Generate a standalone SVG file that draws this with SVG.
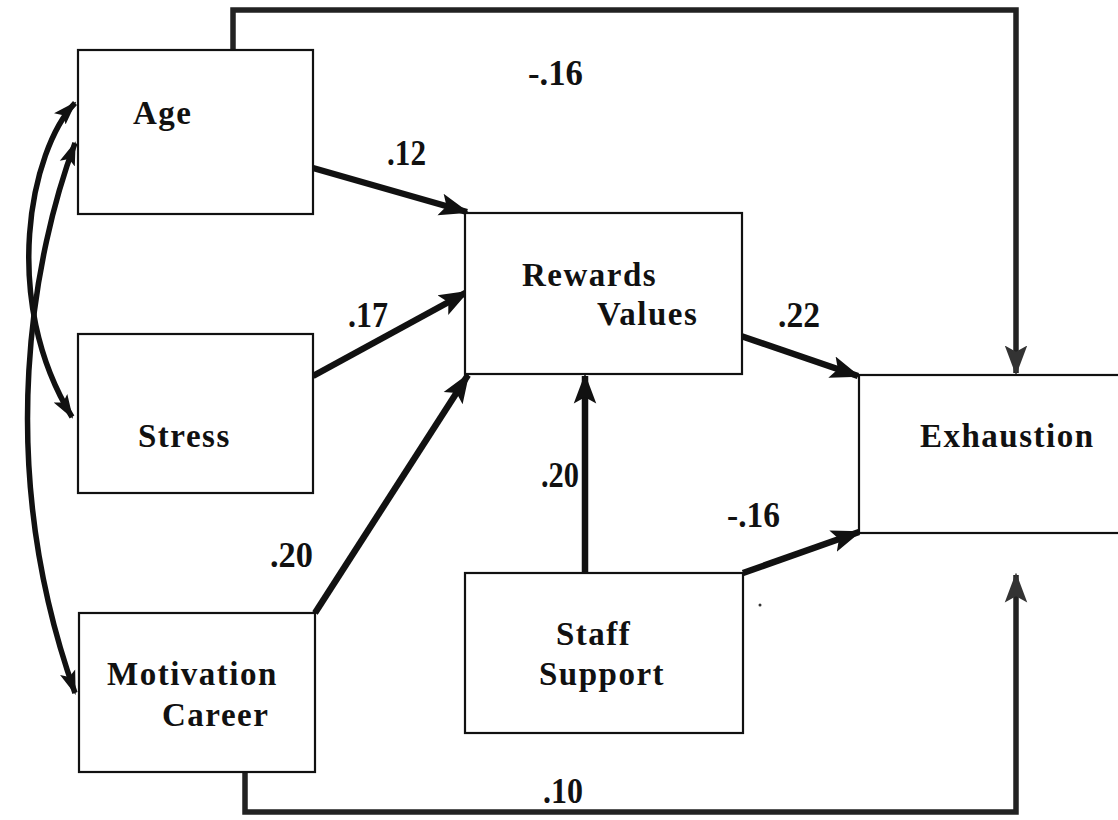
<svg xmlns="http://www.w3.org/2000/svg" width="1118" height="820" viewBox="0 0 1118 820">
<style>
.box{fill:#fff;stroke:#111;stroke-width:2.2}
.lbl{font-family:"Liberation Serif","Times New Roman",serif;font-size:33px;font-weight:bold;fill:#111;letter-spacing:1.5px}
.num{font-family:"Liberation Serif","Times New Roman",serif;font-size:36px;font-weight:bold;fill:#111}
.arr{fill:none;stroke:#111;stroke-width:6.5;marker-end:url(#ah)}
.loop{fill:none;stroke:#222;stroke-width:5.5;marker-end:url(#ahg)}
.curve{fill:none;stroke:#111;stroke-width:5.5;marker-start:url(#ahs);marker-end:url(#ahc)}
</style>
<defs>
<marker id="ah" markerUnits="userSpaceOnUse" markerWidth="30" markerHeight="30" viewBox="0 0 24 20" refX="22" refY="10" orient="auto">
<path d="M0,1 L24,10 L0,19 L5,10 Z" fill="#111"/>
</marker>
<marker id="ahg" markerUnits="userSpaceOnUse" markerWidth="30" markerHeight="30" viewBox="0 0 24 20" refX="22" refY="10" orient="auto">
<path d="M0,1 L24,10 L0,19 L5,10 Z" fill="#333"/>
</marker>
<marker id="ahc" markerUnits="userSpaceOnUse" markerWidth="24" markerHeight="24" viewBox="0 0 24 20" refX="22" refY="10" orient="auto">
<path d="M0,2 L24,10 L0,18 L5,10 Z" fill="#111"/>
</marker>
<marker id="ahs" markerUnits="userSpaceOnUse" markerWidth="24" markerHeight="24" viewBox="0 0 24 20" refX="2" refY="10" orient="auto">
<path d="M24,2 L0,10 L24,18 L19,10 Z" fill="#111"/>
</marker>
</defs>

<g id="connectors">
<path class="loop" d="M233,50 V10 H1016 V373"/>
<path class="loop" d="M245,772 V812 H1016 V575"/>
<path class="arr" d="M313,168 L467,212"/>
<path class="arr" d="M313,376 L467,292"/>
<path class="arr" d="M315,613 L468,375"/>
<path class="arr" d="M741,336 L858,376"/>
<path class="arr" d="M585,573 V376"/>
<path class="arr" d="M743,573 L859,532"/>
<path class="curve" d="M75,103 C30,150 0,300 72,417"/>
<path class="curve" d="M75,143 C35,250 -8,460 75,693"/>
</g>

<g id="age">
<rect class="box" x="78" y="50" width="235" height="164"/>
<text class="lbl" x="133" y="124">Age</text>
</g>
<g id="stress">
<rect class="box" x="78" y="334" width="235" height="159"/>
<text class="lbl" x="138" y="447">Stress</text>
</g>
<g id="motivation-career">
<rect class="box" x="79" y="613" width="236" height="159"/>
<text class="lbl" x="107" y="685">Motivation</text>
<text class="lbl" x="162" y="726">Career</text>
</g>
<g id="rewards-values">
<rect class="box" x="465" y="213" width="277" height="161"/>
<text class="lbl" x="522" y="286">Rewards</text>
<text class="lbl" x="597" y="325">Values</text>
</g>
<g id="staff-support">
<rect class="box" x="465" y="573" width="278" height="160"/>
<text class="lbl" x="556" y="645">Staff</text>
<text class="lbl" x="539" y="685">Support</text>
</g>
<g id="exhaustion">
<rect class="box" x="859" y="375" width="280" height="158"/>
<text class="lbl" x="920" y="447">Exhaustion</text>
</g>

<g id="labels">
<text class="num" x="528" y="85" textLength="55" lengthAdjust="spacingAndGlyphs">-.16</text>
<text class="num" x="387" y="165" textLength="39" lengthAdjust="spacingAndGlyphs">.12</text>
<text class="num" x="348" y="327" textLength="40" lengthAdjust="spacingAndGlyphs">.17</text>
<text class="num" x="270" y="567" textLength="43" lengthAdjust="spacingAndGlyphs">.20</text>
<text class="num" x="778" y="327" textLength="42" lengthAdjust="spacingAndGlyphs">.22</text>
<text class="num" x="541" y="487" textLength="38" lengthAdjust="spacingAndGlyphs">.20</text>
<text class="num" x="727" y="527" textLength="53" lengthAdjust="spacingAndGlyphs">-.16</text>
<text class="num" x="543" y="803" textLength="40" lengthAdjust="spacingAndGlyphs">.10</text>
</g>
<circle cx="760" cy="605" r="1.5" fill="#333"/>
</svg>
